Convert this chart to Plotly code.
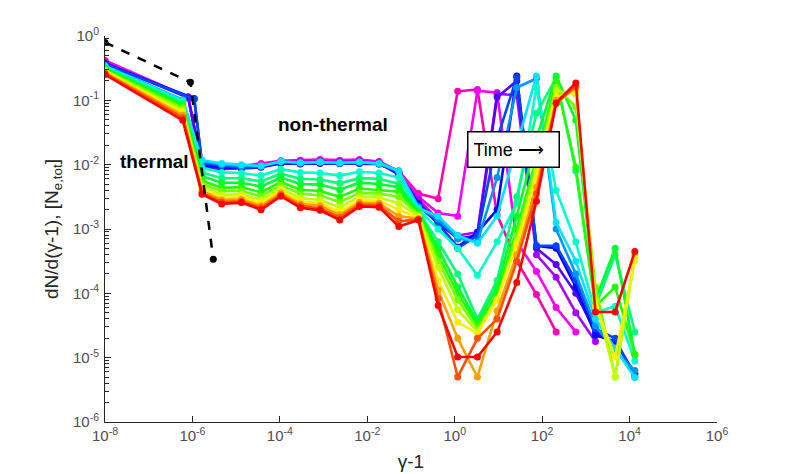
import colorsys

import plotly.graph_objects as go

# gamma-1 positions: first bin, second bin (per snapshot), then the common grid
X_FIRST = 1e-8
X_SECOND = [8e-7, 8e-7, 8e-7, 8e-7, 1.1e-6, 1.1e-6, 6e-7, 6e-7, 6e-7,
            6e-7, 6e-7, 6e-7, 6e-7, 6e-7, 6e-7, 6e-7, 6e-7, 6e-7]
X_GRID = [1.66e-6, 4.68e-6, 1.32e-5, 3.72e-5, 1.05e-4, 2.95e-4, 8.32e-4, 2.34e-3,
          6.61e-3, 1.86e-2, 5.25e-2, 0.148, 0.417, 1.17, 3.31, 9.33, 26.3, 74.1,
          209, 589, 1660, 4680, 13200]

# dN/d(gamma-1), stored as log10 values (None = not drawn)
SNAP_01 = [-0.38, -0.95, -2.02, -2.04, -2.02, -1.98, -1.94, -1.93, -1.92, -1.93, -1.92, -1.95,
           -2.10, -2.45, -2.53, -0.86, -0.83, -2.78, -3.50, -4.02, -4.60, None, None, None, None]
SNAP_02 = [-0.39, -0.95, -2.05, -2.06, -2.04, -2.00, -1.95, -1.94, -1.93, -1.94, -1.93, -1.96,
           -2.12, -2.50, -2.75, -2.80, -0.85, -0.88, -3.20, -3.66, -4.22, -4.60, None, None, None]
SNAP_03 = [-0.41, -0.95, -2.04, -2.07, -2.05, -2.02, -1.96, -1.95, -1.94, -1.95, -1.94, -1.97,
           -2.15, -2.55, -2.85, -3.10, -3.05, -0.90, -0.92, -3.40, -3.75, -4.30, -4.75, None, None]
SNAP_04 = [-0.42, -0.96, -2.02, -2.05, -2.05, -2.03, -1.97, -1.97, -1.96, -1.96, -1.96, -1.98,
           -2.15, -2.60, -2.90, -3.15, -3.10, -0.95, -0.70, -3.30, -3.55, -4.00, -4.60, -4.80, None]
SNAP_05 = [-0.43, -0.97, -2.00, -2.04, -2.06, -2.04, -1.98, -1.99, -1.98, -1.98, -1.98, -1.99,
           -2.12, -2.62, -2.92, -3.28, -3.05, -2.70, -0.62, -3.26, -3.30, -3.90, -4.65, -4.75, -5.25]
SNAP_06 = [-0.44, -0.98, -1.98, -2.02, -2.05, -2.03, -1.96, -1.98, -1.97, -1.98, -1.97, -1.99,
           -2.12, -2.65, -2.90, -3.30, -3.10, -1.60, -0.64, -3.26, -3.26, -3.80, -4.55, -4.70, -5.30]
SNAP_07 = [-0.46, -0.99, -1.95, -2.00, -2.02, -2.02, -1.95, -1.97, -1.96, -1.97, -1.96, -1.98,
           -2.10, -2.65, -2.85, -3.15, -3.20, -2.20, -0.80, -0.66, -3.00, -3.70, -4.50, -4.90, -5.20]
SNAP_08 = [-0.47, -1.00, -1.93, -1.98, -2.00, -2.02, -1.95, -1.97, -1.96, -1.97, -1.96, -1.98,
           -2.10, -2.68, -2.80, -3.10, -3.22, -2.80, -1.70, -0.62, -2.90, -3.50, -4.40, -4.85, -5.31]
SNAP_09 = [-0.48, -1.02, -2.05, -2.12, -2.13, -2.17, -2.07, -2.12, -2.13, -2.17, -2.11, -2.13,
           -2.20, -2.70, -3.00, -3.30, -3.72, -3.20, -2.60, -0.80, -2.40, -3.20, -4.30, -4.20, -5.05]
SNAP_10 = [-0.49, -1.04, -2.12, -2.21, -2.21, -2.26, -2.14, -2.22, -2.23, -2.29, -2.21, -2.22,
           -2.30, -2.72, -3.20, -3.70, -4.40, -3.80, -2.50, -1.20, -0.65, -2.10, -4.20, -3.40, -4.60]
SNAP_11 = [-0.51, -1.06, -2.18, -2.28, -2.28, -2.34, -2.20, -2.30, -2.31, -2.39, -2.28, -2.30,
           -2.35, -2.74, -3.30, -3.90, -4.45, -3.90, -2.80, -1.60, -0.62, -1.31, -4.10, -3.30, -4.95]
SNAP_12 = [-0.52, -1.09, -2.25, -2.36, -2.35, -2.43, -2.27, -2.39, -2.41, -2.50, -2.37, -2.39,
           -2.42, -2.76, -3.40, -4.00, -4.50, -4.00, -3.00, -1.90, -0.70, -2.04, -4.20, -3.90, -4.95]
SNAP_13 = [-0.53, -1.12, -2.30, -2.41, -2.41, -2.49, -2.32, -2.45, -2.48, -2.58, -2.44, -2.45,
           -2.50, -2.78, -3.50, -4.10, -4.55, -4.10, -3.10, -2.00, -0.80, -1.10, -3.90, -5.30, -3.40]
SNAP_14 = [-0.54, -1.16, -2.34, -2.47, -2.46, -2.55, -2.37, -2.52, -2.55, -2.66, -2.50, -2.51,
           -2.60, -2.80, -3.60, -4.25, -4.60, -4.10, -3.20, -2.10, -0.85, -0.90, -4.10, -5.30, -3.45]
SNAP_15 = [-0.56, -1.19, -2.38, -2.52, -2.50, -2.60, -2.41, -2.57, -2.60, -2.73, -2.55, -2.56,
           -2.70, -2.82, -3.80, -4.45, -4.62, -4.10, -3.25, -2.20, -0.95, -0.85, -4.20, -4.99, -3.49]
SNAP_16 = [-0.57, -1.23, -2.41, -2.55, -2.54, -2.64, -2.44, -2.61, -2.64, -2.78, -2.59, -2.60,
           -2.80, -2.84, -3.95, -4.70, -5.30, -4.27, -3.40, -2.35, -1.00, -0.80, None, None, None]
SNAP_17 = [-0.58, -1.27, -2.44, -2.58, -2.57, -2.67, -2.47, -2.64, -2.68, -2.82, -2.62, -2.63,
           -2.88, -2.85, -4.08, -5.30, -4.70, -4.40, -3.50, -2.45, -1.05, -0.78, None, None, None]
SNAP_18 = [-0.60, -1.31, -2.46, -2.61, -2.59, -2.70, -2.49, -2.67, -2.71, -2.86, -2.65, -2.66,
           -2.96, -2.86, -4.19, -4.99, -4.99, -4.60, -3.83, -2.57, -1.04, -0.73, -4.29, -4.29, -3.35]

SNAPSHOTS = [SNAP_01, SNAP_02, SNAP_03, SNAP_04, SNAP_05, SNAP_06, SNAP_07, SNAP_08, SNAP_09,
             SNAP_10, SNAP_11, SNAP_12, SNAP_13, SNAP_14, SNAP_15, SNAP_16, SNAP_17, SNAP_18]

# initial thermal distribution (black dashed)
THERMAL_X = [1e-8, 9e-7, 3e-6]
THERMAL_LOGY = [-0.10, -0.72, -3.47]

# tick positions and labels
X_TICKS = [1e-8, 1e-6, 1e-4, 1e-2, 1, 1e2, 1e4, 1e6]
X_TICK_TEXT = ["10<sup>-8</sup>", "10<sup>-6</sup>", "10<sup>-4</sup>", "10<sup>-2</sup>",
               "10<sup>0</sup>", "10<sup>2</sup>", "10<sup>4</sup>", "10<sup>6</sup>"]
Y_TICKS = [1e-6, 1e-5, 1e-4, 1e-3, 1e-2, 1e-1, 1]
Y_TICK_TEXT = ["10<sup>-6</sup>", "10<sup>-5</sup>", "10<sup>-4</sup>", "10<sup>-3</sup>",
               "10<sup>-2</sup>", "10<sup>-1</sup>", "10<sup>0</sup>"]

FONT = "Liberation Sans"
AXIS_COLOR = "#262626"
TICK_COLOR = "#4d4d4d"


def snap_color(i, n):
    # hsv colormap, pink at the start going to red at the end
    hue = 0.88 * (1 - i / (n - 1))
    r, g, b = colorsys.hsv_to_rgb(hue, 1, 1)
    return f"rgb({int(r * 255)},{int(g * 255)},{int(b * 255)})"


fig = go.Figure()

n = len(SNAPSHOTS)
for i, snap in enumerate(SNAPSHOTS):
    xs = [X_FIRST, X_SECOND[i]] + X_GRID
    ys = [None if v is None else 10 ** v for v in snap]
    c = snap_color(i, n)
    fig.add_trace(
        go.Scatter(
            x=xs,
            y=ys,
            mode="lines+markers",
            line=dict(color=c, width=2.6),
            marker=dict(color=c, size=7),
            showlegend=False,
        )
    )

fig.add_trace(
    go.Scatter(
        x=THERMAL_X,
        y=[10 ** v for v in THERMAL_LOGY],
        mode="lines+markers",
        line=dict(color="black", width=2.5, dash="dash"),
        marker=dict(color="black", size=7),
        showlegend=False,
    )
)

fig.update_xaxes(
    type="log",
    range=[-8, 6],
    tickvals=X_TICKS,
    ticktext=X_TICK_TEXT,
    showgrid=False,
    zeroline=False,
    showline=True,
    linecolor=AXIS_COLOR,
    linewidth=1,
    ticks="inside",
    ticklen=6,
    tickcolor=AXIS_COLOR,
    tickfont=dict(family=FONT, size=15, color=TICK_COLOR),
    title=dict(text="γ-1", font=dict(size=19, color=AXIS_COLOR), standoff=11),
)

fig.update_yaxes(
    type="log",
    range=[-6, 0],
    tickvals=Y_TICKS,
    ticktext=Y_TICK_TEXT,
    showgrid=False,
    zeroline=False,
    showline=True,
    linecolor=AXIS_COLOR,
    linewidth=1,
    ticks="inside",
    ticklen=6,
    ticklabelstandoff=2,
    tickcolor=AXIS_COLOR,
    tickfont=dict(family=FONT, size=15, color=TICK_COLOR),
    minor=dict(ticks="inside", ticklen=4, tickcolor=AXIS_COLOR, dtick="D1"),
)

# y axis title placed by hand to sit at the same distance as the original
fig.add_annotation(
    x=-0.085, y=0.5, xref="paper", yref="paper", xanchor="center", yanchor="middle",
    text="dN/d(γ-1), [N<sub>e,tot</sub>]", textangle=-90, showarrow=False,
    font=dict(family=FONT, size=19, color=AXIS_COLOR),
)
fig.add_annotation(
    x=0.081, y=0.675, xref="paper", yref="paper", xanchor="center", yanchor="middle",
    text="<b>thermal</b>", showarrow=False,
    font=dict(family=FONT, size=19, color="black"),
)
fig.add_annotation(
    x=0.372, y=0.771, xref="paper", yref="paper", xanchor="center", yanchor="middle",
    text="<b>non-thermal</b>", showarrow=False,
    font=dict(family=FONT, size=19, color="black"),
)
fig.add_annotation(
    x=0.667, y=0.706, xref="paper", yref="paper", xanchor="center", yanchor="middle",
    text="Time ⟶", showarrow=False,
    width=80, height=24, align="left",
    font=dict(family=FONT, size=18, color="black"),
    bgcolor="white", bordercolor="black", borderwidth=1.5, borderpad=5,
)

# the page adds a small body margin, so margins are shifted by that amount
fig.update_layout(
    width=793,
    height=474,
    margin=dict(l=97, r=84, t=28, b=60),
    paper_bgcolor="white",
    plot_bgcolor="white",
    font=dict(family=FONT, size=11, color=AXIS_COLOR),
)

fig.write_html("out.html")
